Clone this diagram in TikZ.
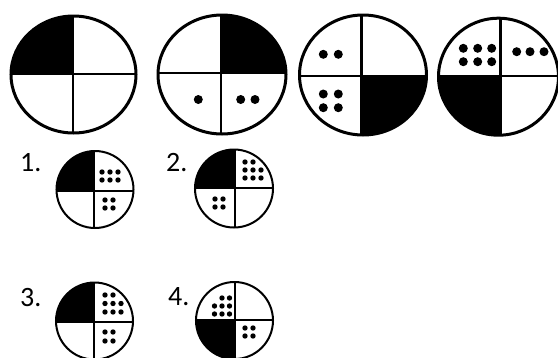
\documentclass[tikz,border=0pt]{standalone}
\usepackage{fontspec}
\setmainfont{Carlito}
\begin{document}
\begin{tikzpicture}[x=1pt,y=-1pt,
  bigline/.style={line width=3pt},
  bigdiv/.style={line width=2.5pt},
  smline/.style={line width=2pt},
  smdiv/.style={line width=1.6pt},
  lbl/.style={font=\fontsize{28}{28}\selectfont, anchor=west, inner sep=0pt}]
\useasboundingbox (0,0) rectangle (558,357);
\newcommand{\bd}[2]{\fill (#1,#2) circle [radius=4.5];}
\newcommand{\sd}[2]{\fill (#1,#2) circle [radius=2.7];}

% ---------- big circle 1 ----------
\begin{scope}
  \clip (73.5,74.5) ellipse [x radius=62.5, y radius=58.5];
  \fill (0,0) rectangle (73,74);
  \draw[bigdiv] (73,0) -- (73,150);
  \draw[bigdiv] (0,74) -- (150,74);
\end{scope}
\draw[bigline] (73.5,74.5) ellipse [x radius=62.5, y radius=58.5];

% ---------- big circle 2 ----------
\begin{scope}
  \clip (222,74.5) ellipse [x radius=64, y radius=59.5];
  \fill (221,0) rectangle (300,73);
  \draw[bigdiv] (221,0) -- (221,150);
  \draw[bigdiv] (150,73) -- (300,73);
\end{scope}
\draw[bigline] (222,74.5) ellipse [x radius=64, y radius=59.5];
\bd{198.3}{99.5}
\bd{240.7}{99.5}
\bd{255}{99.5}

% ---------- big circle 3 ----------
\begin{scope}
  \clip (363,75) ellipse [x radius=63.5, y radius=60];
  \fill (361.7,76) rectangle (440,150);
  \draw[bigdiv] (361.7,0) -- (361.7,150);
  \draw[bigdiv] (290,76) -- (440,76);
\end{scope}
\draw[bigline] (363,75) ellipse [x radius=63.5, y radius=60];
\bd{323.3}{54.3}
\bd{338.3}{54.3}
\bd{323.3}{94}
\bd{338.3}{94}
\bd{323.3}{107.7}
\bd{338.3}{107.7}

% ---------- big circle 4 ----------
\begin{scope}
  \clip (498.5,76.7) ellipse [x radius=60, y radius=58.5];
  \fill (420,76) rectangle (500.7,150);
  \draw[bigdiv] (500.7,0) -- (500.7,150);
  \draw[bigdiv] (420,76) -- (570,76);
\end{scope}
\draw[bigline] (498.5,76.7) ellipse [x radius=60, y radius=58.5];
\bd{463.3}{48.3}
\bd{477.7}{48.3}
\bd{491.7}{48.3}
\bd{463.3}{61.7}
\bd{477.7}{61.7}
\bd{491.7}{61.7}
\bd{516.7}{51.7}
\bd{530}{51.7}
\bd{544}{51.7}

% ---------- small circle 1 ----------
\node[lbl] (l1) at (20,163) {1.};
\begin{scope}
  \clip (95,189.5) circle [radius=38.5];
  \fill (50,140) rectangle (94,191);
  \draw[smdiv] (94,140) -- (94,240);
  \draw[smdiv] (50,191) -- (140,191);
\end{scope}
\draw[smline] (95,189.5) circle [radius=38.5];
\sd{102}{172}\sd{110}{172}\sd{118}{172}
\sd{102}{180}\sd{110}{180}\sd{118}{180}
\sd{105}{200}\sd{113}{200}
\sd{105}{208}\sd{113}{208}

% ---------- small circle 2 ----------
\node[lbl] (l2) at (166,163) {2.};
\begin{scope}
  \clip (234,188.5) circle [radius=39];
  \fill (190,140) rectangle (235,188);
  \draw[smdiv] (235,140) -- (235,240);
  \draw[smdiv] (190,188) -- (280,188);
\end{scope}
\draw[smline] (234,188.5) circle [radius=39];
\sd{245}{162}\sd{253}{162}
\sd{245}{170}\sd{253}{170}\sd{261}{170}
\sd{245}{178}\sd{253}{178}\sd{261}{178}
\sd{215}{199}\sd{223}{199}
\sd{215}{207}\sd{223}{207}

% ---------- small circle 3 ----------
\node[lbl] (l3) at (20,298) {3.};
\begin{scope}
  \clip (94.5,321) circle [radius=38.5];
  \fill (50,270) rectangle (94,322);
  \draw[smdiv] (94,270) -- (94,370);
  \draw[smdiv] (50,322) -- (140,322);
\end{scope}
\draw[smline] (94.5,321) circle [radius=38.5];
\sd{105}{295}\sd{113}{295}
\sd{105}{303.5}\sd{113}{303.5}\sd{121}{303.5}
\sd{105}{312}\sd{113}{312}\sd{121}{312}
\sd{105}{332}\sd{113}{332}
\sd{105}{341}\sd{113}{341}

% ---------- small circle 4 ----------
\node[lbl] (l4) at (168,297) {4.};
\begin{scope}
  \clip (234.5,320.5) circle [radius=38.5];
  \fill (190,320) rectangle (235,370);
  \draw[smdiv] (235,270) -- (235,370);
  \draw[smdiv] (190,320) -- (280,320);
\end{scope}
\draw[smline] (234.5,320.5) circle [radius=38.5];
\sd{222}{298}\sd{229.5}{298}
\sd{214.5}{306}\sd{222}{306}\sd{229.5}{306}
\sd{214.5}{314}\sd{222}{314}\sd{229.5}{314}
\sd{245}{328}\sd{253}{328}
\sd{245}{336}\sd{253}{336}
\end{tikzpicture}
\end{document}
